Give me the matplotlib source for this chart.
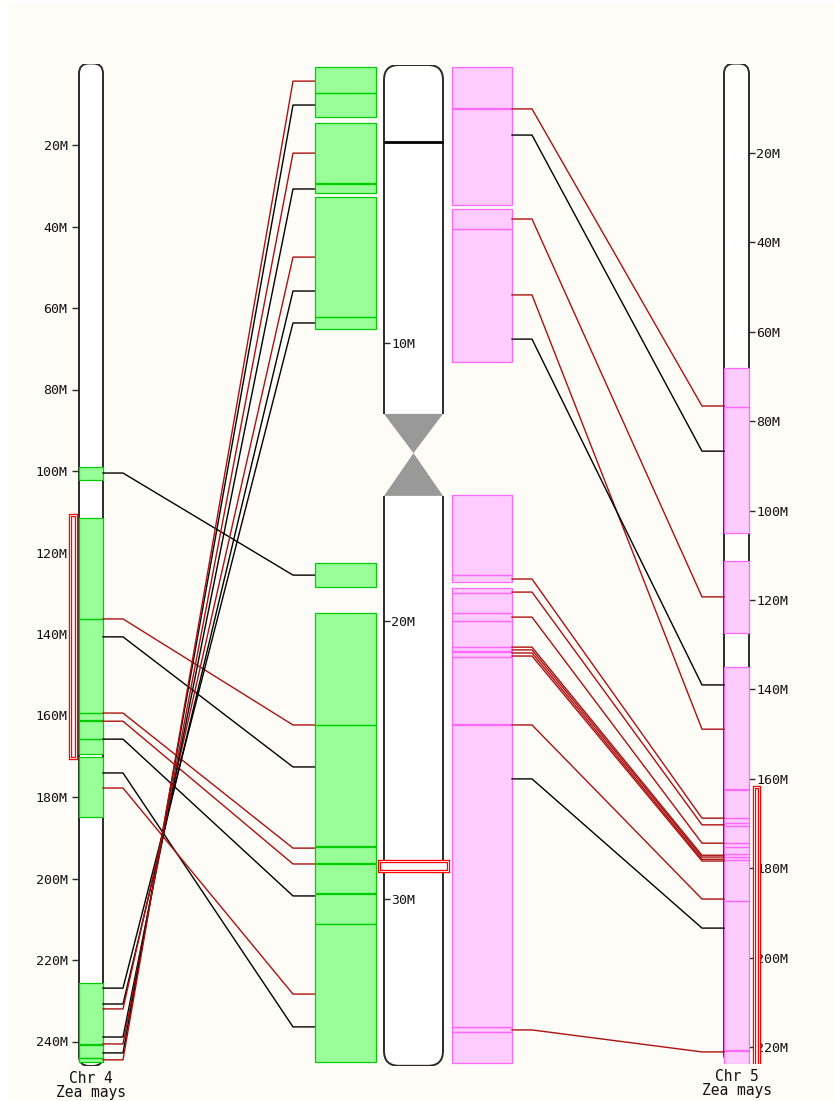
import matplotlib
matplotlib.use("Agg")
import matplotlib.pyplot as plt
from matplotlib.patches import Rectangle, FancyBboxPatch, Polygon

W, H = 835, 1101

# chromosome lengths (Mb)
chr4_len = 246.0
mid_len = 36.0
chr5_len = 223.8

# tick positions (Mb)
chr4_ticks = [20, 40, 60, 80, 100, 120, 140, 160, 180, 200, 220, 240]
mid_ticks = [10, 20, 30]
chr5_ticks = [20, 40, 60, 80, 100, 120, 140, 160, 180, 200, 220]

# centromere of the middle chromosome (start, pinch, end) and dark band
mid_centromere = (12.55, 13.96, 15.5)
mid_band = 2.77

# highlighted regions
chr4_highlight = (110.8, 170.4)
mid_highlight = (28.65, 28.98)
chr5_highlight = (161.8, 224.5)

# syntenic blocks (start, end) in Mb
chr4_blocks = [(99.0, 102.2), (111.5, 136.3), (136.3, 159.3), (159.5, 161.2),
               (161.45, 165.8), (165.8, 169.4), (170.2, 184.9),
               (225.6, 240.55), (240.8, 244.0), (244.0, 245.0)]
mid_green_blocks = [(0.07, 1.01), (1.01, 1.87), (2.09, 4.25), (4.285, 4.60),
                    (4.75, 9.06), (9.06, 9.50), (17.91, 18.78),
                    (19.71, 23.74), (23.74, 28.11), (28.145, 28.72),
                    (28.755, 29.80), (29.835, 30.90), (30.90, 35.86)]
mid_pink_blocks = [(0.07, 1.56), (1.595, 5.04), (5.18, 5.90), (5.90, 10.68),
                   (15.47, 18.35), (18.35, 18.60), (18.81, 18.99),
                   (18.99, 19.71), (19.71, 20.0), (20.0, 20.94),
                   (20.94, 21.08), (21.11, 21.29), (21.29, 23.69),
                   (23.725, 34.60), (34.60, 34.78), (34.78, 35.9)]
chr5_blocks = [(68.0, 76.8), (76.8, 105.0), (111.3, 127.4), (135.0, 162.3),
               (162.55, 168.8), (168.8, 169.9), (169.9, 170.6), (170.6, 174.4),
               (174.4, 175.3), (175.3, 176.8), (176.8, 177.5), (177.5, 178.2),
               (178.2, 187.3), (187.3, 220.6), (221.0, 223.8)]

# links chr4 <-> middle chromosome
left_chr4 = [100.5, 136.3, 140.7, 159.4, 161.4, 165.8, 174.1, 177.8,
             226.9, 230.8, 232.0, 238.9, 240.6, 242.8, 244.5]
left_mid = [18.35, 23.74, 25.25, 28.17, 28.74, 29.89, 34.60, 33.42,
            9.28, 8.13, 6.91, 4.46, 3.17, 1.44, 0.58]
left_col = ["k", "r", "k", "r", "r", "k", "k", "r",
            "k", "k", "r", "k", "r", "k", "r"]

# links middle chromosome <-> chr5
right_mid = [1.58, 2.52, 5.54, 8.27, 9.86, 18.49, 18.96, 19.86,
             20.94, 21.04, 21.15, 21.26, 23.74, 25.68, 34.71]
right_chr5 = [76.6, 86.7, 119.3, 148.9, 139.0, 168.8, 170.3, 174.4,
              177.1, 177.5, 178.0, 178.4, 186.9, 193.4, 221.1]
right_col = ["r", "k", "r", "r", "k", "r", "r", "r",
             "r", "r", "r", "r", "r", "k", "r"]

# style
BG = "#fdfcf7"
EDGE = "#2a2a2a"
RED_LINK = "#aa1111"
GREEN_FACE, GREEN_EDGE = "#99ff99", "#00cc00"
PINK_FACE, PINK_EDGE = "#ffccff", "#ff66ff"
colmap = {"k": "black", "r": RED_LINK}
TICK_SIZE = 9.5
LABEL_SIZE = 10.5

plt.rcParams["font.family"] = ["DejaVu Sans Mono"]

fig = plt.figure(figsize=(W / 100, H / 100), dpi=100)
fig.patch.set_facecolor("white")
fig.add_artist(Rectangle((8 / W, 0), 1, 1 - 4 / H, transform=fig.transFigure,
                         fc=BG, ec="none", zorder=-10))


def make_axes(top_px, px_per_mb, length):
    bottom_px = top_px + px_per_mb * length
    ax = fig.add_axes([0, 1 - bottom_px / H, 1, (bottom_px - top_px) / H])
    ax.set_xlim(0, W)
    ax.set_ylim(length, 0)
    ax.patch.set_visible(False)
    for s in ax.spines.values():
        s.set_visible(False)
    ax.xaxis.set_visible(False)
    return ax


def draw_body(ax, x0, x1, length, px_per_mb, radius):
    body = FancyBboxPatch((x0, 0), x1 - x0, length,
                          boxstyle=f"round,pad=0,rounding_size={radius}",
                          mutation_aspect=1 / px_per_mb,
                          fc="white", ec=EDGE, lw=1.4, zorder=1)
    ax.add_patch(body)


def draw_blocks(ax, blocks, x0, x1, face, edge):
    for s, e in blocks:
        ax.add_patch(Rectangle((x0, s), x1 - x0, e - s, fc=face, ec="none", zorder=2))
    for s, e in blocks:
        ax.add_patch(Rectangle((x0, s), x1 - x0, e - s, fc="none", ec=edge,
                               lw=0.9, zorder=3))


def draw_highlight(ax, x0, x1, span):
    s, e = span
    ax.add_patch(Rectangle((x0, s), x1 - x0, e - s, fc="white", ec="red",
                           lw=2.4, zorder=5))
    ax.add_patch(Rectangle((x0, s), x1 - x0, e - s, fc="none", ec="white",
                           lw=0.6, zorder=6))


def to_axes_y(ax_from, ax_to, y):
    disp = ax_from.transData.transform((0, y))
    return ax_to.transData.inverted().transform(disp)[1]


# --- Chr 4 (left) ---
ax4 = make_axes(63.5, 4.075, chr4_len)
draw_body(ax4, 79, 103, chr4_len, 4.075, 10)
draw_blocks(ax4, chr4_blocks, 79, 103, GREEN_FACE, GREEN_EDGE)
draw_highlight(ax4, 70, 76, chr4_highlight)
ax4.spines["left"].set_position(("data", 79))
ax4.yaxis.set_ticks_position("left")
ax4.set_yticks(chr4_ticks)
ax4.set_yticklabels([f"{t}M" for t in chr4_ticks])
ax4.tick_params(axis="y", direction="out", length=5, width=1, pad=3.2,
                labelsize=TICK_SIZE, color=EDGE, labelcolor="#111111")
ax4.annotate("Chr 4\nZea mays", (91, chr4_len), xytext=(0, -3.5),
             textcoords="offset points", ha="center", va="top",
             fontsize=LABEL_SIZE, linespacing=0.95, color="#111111")

# --- middle chromosome ---
axm = make_axes(65, 27.8, mid_len)
draw_body(axm, 384, 443, mid_len, 27.8, 15)
c0, c1, c2 = mid_centromere
axm.add_patch(Rectangle((382, c0), 63, c2 - c0, fc=BG, ec="none", zorder=1.2))
axm.add_patch(Polygon([(384, c0), (443, c0), (413.5, c1)], closed=True,
                      fc="#999999", ec="none", zorder=1.3))
axm.add_patch(Polygon([(413.5, c1), (384, c2), (443, c2)], closed=True,
                      fc="#999999", ec="none", zorder=1.3))
axm.plot([384, 443], [mid_band, mid_band], color="black", lw=2, zorder=1.4,
         solid_capstyle="butt")
draw_blocks(axm, mid_green_blocks, 315, 376, GREEN_FACE, GREEN_EDGE)
draw_blocks(axm, mid_pink_blocks, 452, 512, PINK_FACE, PINK_EDGE)
draw_highlight(axm, 379, 448, mid_highlight)
axm.spines["right"].set_position(("data", 384))
axm.yaxis.set_ticks_position("right")
axm.set_yticks(mid_ticks)
axm.set_yticklabels([f"{t}M" for t in mid_ticks])
axm.tick_params(axis="y", direction="out", length=4.3, width=1, pad=1.0,
                labelsize=TICK_SIZE, color=EDGE, labelcolor="#111111")

# --- Chr 5 (right) ---
ax5 = make_axes(63.6, 4.47, chr5_len)
draw_body(ax5, 724, 749, chr5_len, 4.47, 10)
draw_blocks(ax5, chr5_blocks, 724, 749, PINK_FACE, PINK_EDGE)
draw_highlight(ax5, 754, 759, chr5_highlight)
ax5.spines["right"].set_position(("data", 749))
ax5.yaxis.set_ticks_position("right")
ax5.set_yticks(chr5_ticks)
ax5.set_yticklabels([f"{t}M" for t in chr5_ticks])
ax5.tick_params(axis="y", direction="out", length=4.3, width=1, pad=1.0,
                labelsize=TICK_SIZE, color=EDGE, labelcolor="#111111")
ax5.annotate("Chr 5\nZea mays", (736.5, chr5_len), xytext=(0, -3.5),
             textcoords="offset points", ha="center", va="top",
             fontsize=LABEL_SIZE, linespacing=0.95, color="#111111")

# --- links ---
for a, b, c in zip(left_chr4, left_mid, left_col):
    yb = to_axes_y(axm, ax4, b)
    ax4.plot([103, 123, 293, 316], [a, a, yb, yb], color=colmap[c],
             lw=1.0, zorder=4)

for a, b, c in zip(right_mid, right_chr5, right_col):
    ya = to_axes_y(axm, ax5, a)
    ax5.plot([512, 532, 702, 724], [ya, ya, b, b], color=colmap[c],
             lw=1.0, zorder=4)

fig.savefig("out.png", dpi=100, facecolor=fig.get_facecolor())
